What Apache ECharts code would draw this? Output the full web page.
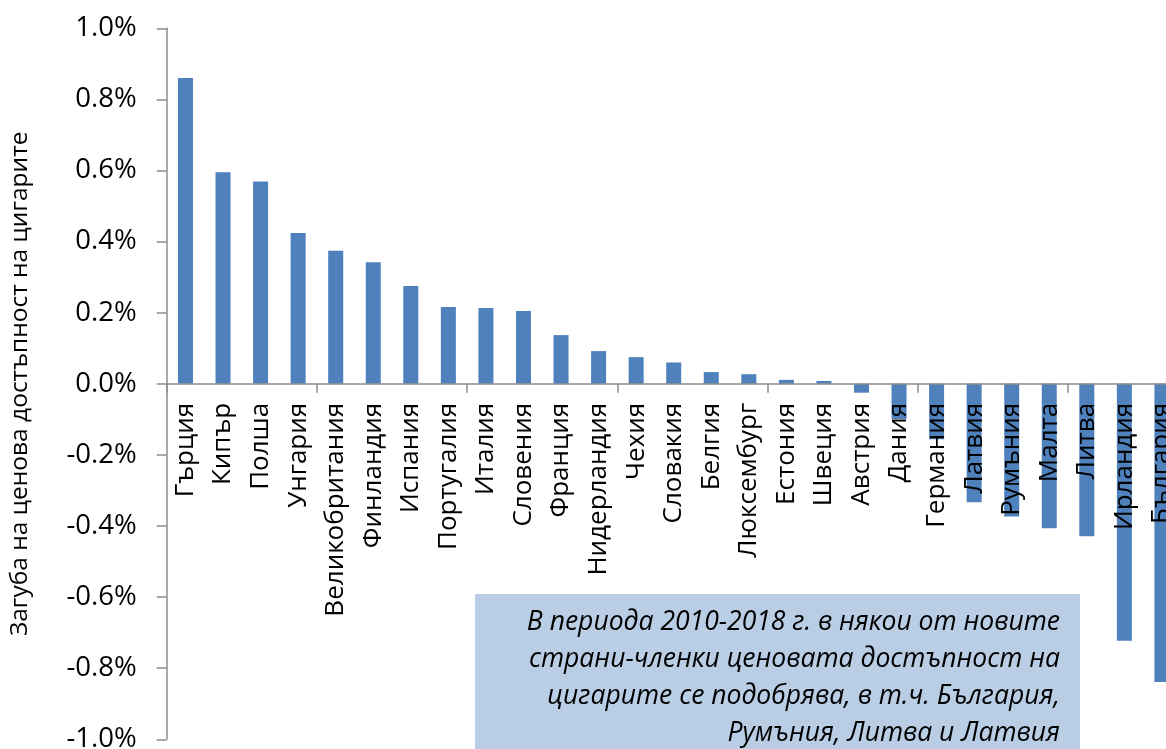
<!DOCTYPE html>
<html><head><meta charset="utf-8">
<script src="https://cdn.jsdelivr.net/npm/echarts@6/dist/echarts.min.js"></script>
<style>html,body{margin:0;padding:0;background:#fff}#c{width:1166px;height:749px}</style>
</head><body><div id="c"></div>
<script>
const countries = ['Гърция','Кипър','Полша','Унгария','Великобритания','Финландия','Испания','Португалия','Италия','Словения','Франция','Нидерландия','Чехия','Словакия','Белгия','Люксембург','Естония','Швеция','Австрия','Дания','Германия','Латвия','Румъния','Малта','Литва','Ирландия','България'];
const lossPct = [0.860,0.595,0.569,0.424,0.374,0.342,0.275,0.216,0.213,0.205,0.137,0.092,0.075,0.060,0.033,0.027,0.011,0.008,-0.025,-0.099,-0.156,-0.333,-0.373,-0.406,-0.429,-0.723,-0.839];
const yTitle = 'Загуба на ценова достъпност на цигарите';
const noteLines = ['В периода 2010-2018 г. в някои от новите','страни-членки ценовата достъпност на','цигарите се подобрява, в т.ч. България,','Румъния, Литва и Латвия'];

const FONT = '"Open Sans", "Liberation Sans", sans-serif';
const AX = '#8c8c8c';
const chart = echarts.init(document.getElementById('c'), null, {renderer:'canvas'});
chart.setOption({
  animation:false,
  grid:[
    {left:166.7, top:28.3, bottom:9.7, width:1014, containLabel:false, outerBoundsMode:'none'},
    // upper half grid (1.0% .. 0.0%) used only to place the category labels under the zero line
    {left:166.7, top:28.3, height:355.5, width:1014, containLabel:false, outerBoundsMode:'none'}
  ],
  xAxis:[
    {gridIndex:0, type:'category', data:countries, z:10,
     axisLine:{onZero:true, lineStyle:{color:AX, width:1.5}},
     axisTick:{show:true, length:9, lineStyle:{color:AX, width:1.5}},
     axisLabel:{show:false}},
    {gridIndex:1, type:'category', data:countries, z:11,
     axisLine:{show:false}, axisTick:{show:false},
     axisLabel:{show:true, rotate:90, margin:19, color:'#000', fontSize:26, fontFamily:FONT, interval:0, hideOverlap:false}}
  ],
  yAxis:[
    {gridIndex:0, type:'value', min:-1, max:1, interval:0.2,
     name:yTitle, nameLocation:'middle', nameGap:134, nameRotate:90,
     nameTextStyle:{fontSize:24.5, color:'#000', fontFamily:FONT},
     splitLine:{show:false},
     axisLine:{show:true, lineStyle:{color:AX, width:1.5}},
     axisTick:{show:true, length:10, lineStyle:{color:AX, width:1.5}},
     axisLabel:{margin:30, color:'#000', fontSize:27.5, fontFamily:FONT,
       formatter:v=>v.toFixed(1)+'%'}},
    {gridIndex:1, type:'value', min:0, max:1, show:false}
  ],
  series:[{type:'bar', xAxisIndex:0, yAxisIndex:0, data:lossPct, barWidth:'40%', itemStyle:{color:'#4F81BD'}}],
  graphic:[
    {type:'rect', left:475, top:594, z:100, shape:{width:605, height:160}, style:{fill:'#B9CDE5'}},
    {type:'text', z:101, x:1060, y:622, style:{text:noteLines[0], fill:'#000', font:'italic 26.5px '+FONT, textAlign:'right', textVerticalAlign:'middle'}},
    {type:'text', z:101, x:1060, y:659, style:{text:noteLines[1], fill:'#000', font:'italic 26.5px '+FONT, textAlign:'right', textVerticalAlign:'middle'}},
    {type:'text', z:101, x:1060, y:696, style:{text:noteLines[2], fill:'#000', font:'italic 26.5px '+FONT, textAlign:'right', textVerticalAlign:'middle'}},
    {type:'text', z:101, x:1060, y:733, style:{text:noteLines[3], fill:'#000', font:'italic 26.5px '+FONT, textAlign:'right', textVerticalAlign:'middle'}}
  ]
});
</script></body></html>
